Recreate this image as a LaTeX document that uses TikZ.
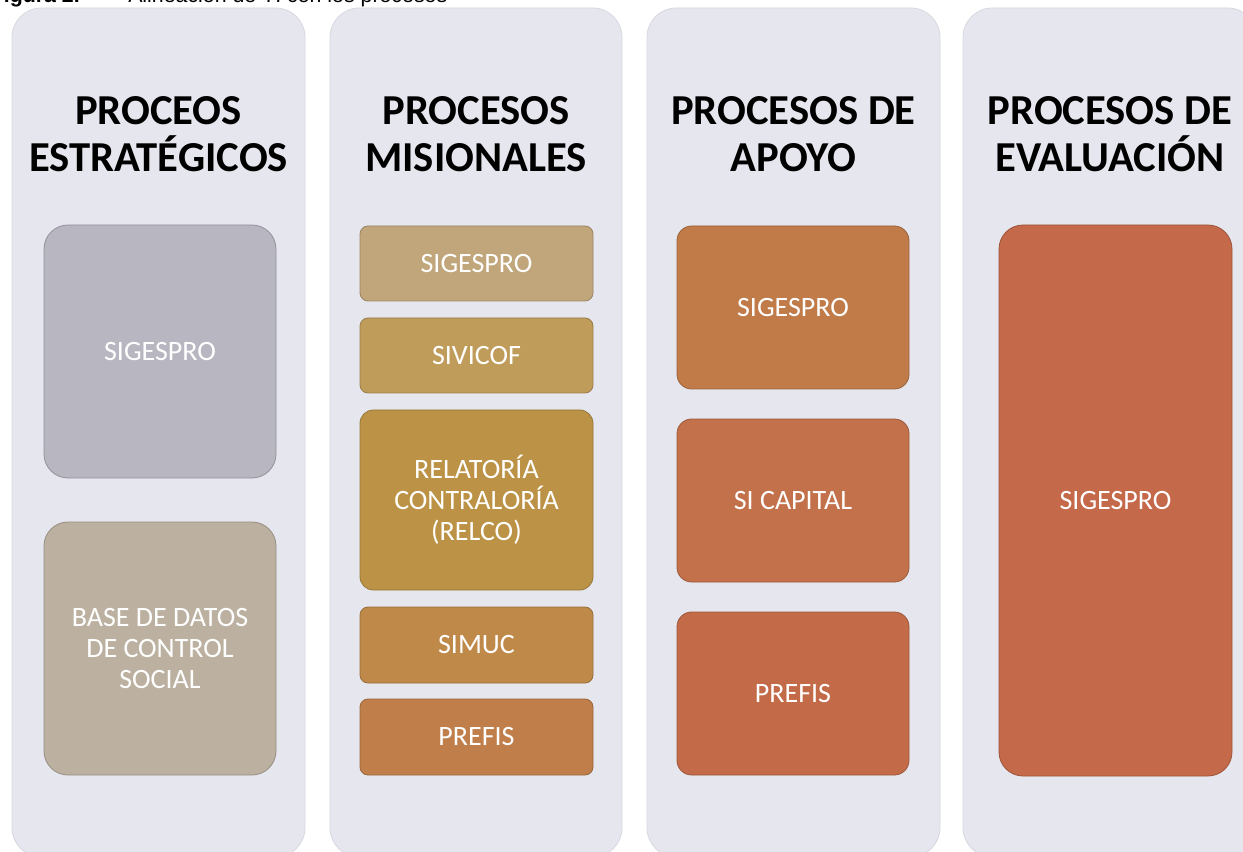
\documentclass[tikz,border=0pt]{standalone}
\usepackage{fontspec}
\setmainfont{Carlito}
\newfontfamily\capfont{Liberation Sans}
\usetikzlibrary{fit}
\definecolor{panelc}{HTML}{E6E6EE}
\definecolor{panelb}{HTML}{D8D8E0}
\definecolor{ca}{HTML}{B8B7C1}
\definecolor{cb}{HTML}{BCB1A1}
\definecolor{cc}{HTML}{C1A67B}
\definecolor{cd}{HTML}{C09C5B}
\definecolor{ce}{HTML}{BC9346}
\definecolor{cf}{HTML}{BE8949}
\definecolor{cg}{HTML}{C07F4A}
\definecolor{ch}{HTML}{C07B49}
\definecolor{ci}{HTML}{C2714A}
\definecolor{cj}{HTML}{C36B48}
\definecolor{ck}{HTML}{C4694A}
\tikzset{
  panel/.style={fill=panelc, draw=panelb, line width=0.6pt, rounded corners=22pt, inner sep=0pt},
  ptitle/.style={font=\bfseries\fontsize{32}{35.3}\selectfont, align=center, text=black},
  ibox/.style={fill=#1, draw=#1!80!black, line width=0.6pt, inner sep=0pt},
  itext/.style={text=white, font=\fontsize{21}{23.3}\selectfont, align=center},
  captext/.style={inner sep=0pt, font=\capfont\fontsize{16}{18}\selectfont},
}
\begin{document}
\begin{tikzpicture}[x=0.75pt,y=-0.75pt]
\useasboundingbox (0,0) rectangle (1243,852);
\clip (0,0) rectangle (1243,852);
\fill[white] (0,0) rectangle (1243,852);
% caption (cut off at top, as in the reference)
\node[captext, anchor=base east] (cap1) at (80,3) {\bfseries Figura 2.};
\node[captext, anchor=base west] (cap2) at (128,3) {Alineación de TI con los procesos};
% panels
\node[panel, fit={(12,8) (305,857)}] (p1) {};
\node[panel, fit={(330,8) (622,857)}] (p2) {};
\node[panel, fit={(647,8) (940,857)}] (p3) {};
\node[panel, fit={(963,8) (1257,857)}] (p4) {};
% titles
\node[ptitle] (t1) at (158.5,134) {PROCEOS\\ESTRATÉGICOS};
\node[ptitle] (t2) at (476,134) {PROCESOS\\MISIONALES};
\node[ptitle] (t3) at (793.5,134) {PROCESOS DE\\APOYO};
\node[ptitle] (t4) at (1110,134) {PROCESOS DE\\EVALUACIÓN};
% column 1
\node[ibox=ca, rounded corners=18pt, fit={(44,225) (276,478)}] (a1) {};
\node[itext] (a1t) at (a1.center) {SIGESPRO};
\node[ibox=cb, rounded corners=18pt, fit={(44,522) (276,775)}] (a2) {};
\node[itext] (a2t) at (a2.center) {BASE DE DATOS\\DE CONTROL\\SOCIAL};
% column 2
\node[ibox=cc, rounded corners=6pt, fit={(360,226) (593,301)}] (b1) {};
\node[itext] (b1t) at (b1.center) {SIGESPRO};
\node[ibox=cd, rounded corners=6pt, fit={(360,318) (593,393)}] (b2) {};
\node[itext] (b2t) at (b2.center) {SIVICOF};
\node[ibox=ce, rounded corners=10pt, fit={(360,410) (593,590)}] (b3) {};
\node[itext] (b3t) at (b3.center) {RELATORÍA\\CONTRALORÍA\\(RELCO)};
\node[ibox=cf, rounded corners=6pt, fit={(360,607) (593,683)}] (b4) {};
\node[itext] (b4t) at (b4.center) {SIMUC};
\node[ibox=cg, rounded corners=6pt, fit={(360,699) (593,775)}] (b5) {};
\node[itext] (b5t) at (b5.center) {PREFIS};
% column 3
\node[ibox=ch, rounded corners=11pt, fit={(677,226) (909,389)}] (c1) {};
\node[itext] (c1t) at (c1.center) {SIGESPRO};
\node[ibox=ci, rounded corners=11pt, fit={(677,419) (909,582)}] (c2) {};
\node[itext] (c2t) at (c2.center) {SI CAPITAL};
\node[ibox=cj, rounded corners=11pt, fit={(677,612) (909,775)}] (c3) {};
\node[itext] (c3t) at (c3.center) {PREFIS};
% column 4
\node[ibox=ck, rounded corners=18pt, fit={(999,225) (1232,776)}] (d1) {};
\node[itext] (d1t) at (d1.center) {SIGESPRO};
\end{tikzpicture}
\end{document}
